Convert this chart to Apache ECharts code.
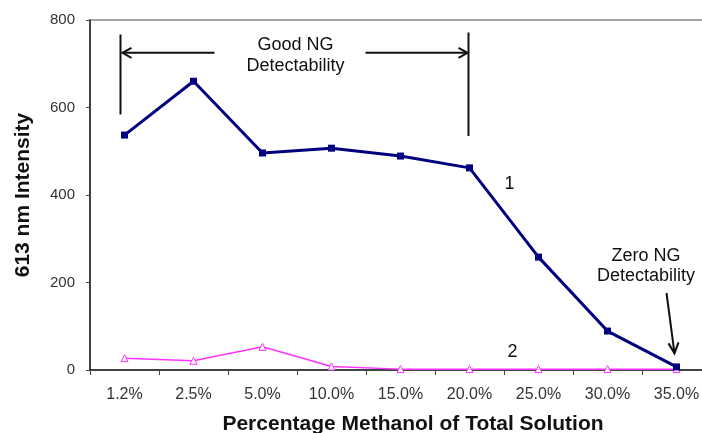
<!DOCTYPE html>
<html>
<head>
<meta charset="utf-8">
<script src="https://cdn.jsdelivr.net/npm/echarts@6/dist/echarts.min.js"></script>
<style>
  html, body { margin: 0; padding: 0; background: #fff; }
  #chart { width: 702px; height: 433px; }
</style>
</head>
<body>
<div id="chart"></div>
<script>
// Methanol fraction of the total solution
const categories = ['1.2%', '2.5%', '5.0%', '10.0%', '15.0%', '20.0%', '25.0%', '30.0%', '35.0%'];
// Curve 1: 613 nm emission intensity
const series1 = [537, 660, 496, 507, 489, 462, 258, 89, 7];
// Curve 2: 613 nm emission intensity
const series2 = [27, 21, 53, 8, 2, 2, 2, 2, 2];
const yTicks = [0, 200, 400, 600, 800];

const FONT = 'Liberation Sans, Arial, sans-serif';
const chart = echarts.init(document.getElementById('chart'), null, { renderer: 'canvas' });

chart.setOption({
  animation: false,
  backgroundColor: '#fff',
  grid: {
    left: 90, top: 20, width: 621, height: 350,
    outerBoundsMode: 'none', containLabel: false,
    show: true, borderColor: '#888', borderWidth: 1.5, backgroundColor: 'transparent'
  },
  xAxis: {
    type: 'category',
    data: categories,
    boundaryGap: true,
    name: 'Percentage Methanol of Total Solution',
    nameLocation: 'middle',
    nameGap: 44,
    nameTextStyle: { fontFamily: FONT, fontSize: 21, fontWeight: 'bold', color: '#111', padding: [0, 0, 0, 25] },
    axisLine: { lineStyle: { color: '#222', width: 1.5 } },
    axisTick: { show: true, length: 5, lineStyle: { color: '#444' } },
    axisLabel: { fontFamily: FONT, fontSize: 16, color: '#333', margin: 17 }
  },
  yAxis: {
    type: 'value',
    min: yTicks[0],
    max: yTicks[yTicks.length - 1],
    interval: 200,
    name: '613 nm Intensity',
    nameLocation: 'middle',
    nameGap: 56,
    nameTextStyle: { fontFamily: FONT, fontSize: 21, fontWeight: 'bold', color: '#111' },
    axisLine: { show: true, lineStyle: { color: '#222', width: 1.5 } },
    axisTick: { show: true, length: 4, lineStyle: { color: '#444' } },
    axisLabel: { fontFamily: FONT, fontSize: 15, color: '#333', margin: 15 },
    splitLine: { show: false }
  },
  series: [
    {
      name: '1',
      type: 'line',
      data: series1,
      symbol: 'rect',
      symbolSize: 7,
      lineStyle: { color: '#000080', width: 3 },
      itemStyle: { color: '#000080' },
      z: 3
    },
    {
      name: '2',
      type: 'line',
      data: series2,
      symbol: 'triangle',
      symbolSize: 7,
      lineStyle: { color: '#ff33ff', width: 1.5 },
      itemStyle: { color: '#fff', borderColor: '#ff33ff', borderWidth: 1 },
      z: 2
    }
  ]
});

// Annotations placed in data space and converted to pixels
function px(cat, val) { return chart.convertToPixel({ xAxisIndex: 0, yAxisIndex: 0 }, [cat, val]); }
const left = px('1.2%', 0), right = px('20.0%', 0);
const lx = left[0] - 4, rx = right[0] - 1;
const yTop = px('1.2%', 760)[1], yArrow = px('1.2%', 725)[1];
const yLeftBottom = px('1.2%', 584)[1], yRightBottom = px('1.2%', 535)[1];
const zeroTip = px('35.0%', 38);
const arrowStyle = { stroke: '#111', lineWidth: 2 };
const txt = { fontFamily: FONT, fontSize: 18, fill: '#111' };

function arrowHead(x, y, dir) {
  let pts;
  if (dir === 'left') pts = [[x + 9, y - 5], [x, y], [x + 9, y + 5]];
  else pts = [[x - 9, y - 5], [x, y], [x - 9, y + 5]];
  return { type: 'polyline', shape: { points: pts }, style: arrowStyle, z: 10 };
}

const textCx = (lx + rx) / 2 + 1;
chart.setOption({
  graphic: [
    { type: 'line', shape: { x1: lx, y1: yTop - 3, x2: lx, y2: yLeftBottom }, style: arrowStyle, z: 10 },
    { type: 'line', shape: { x1: rx, y1: yTop - 5, x2: rx, y2: yRightBottom }, style: arrowStyle, z: 10 },
    { type: 'line', shape: { x1: lx + 2, y1: yArrow, x2: lx + 94, y2: yArrow }, style: arrowStyle, z: 10 },
    arrowHead(lx + 2, yArrow, 'left'),
    { type: 'line', shape: { x1: rx - 103, y1: yArrow, x2: rx - 1, y2: yArrow }, style: arrowStyle, z: 10 },
    arrowHead(rx - 1, yArrow, 'right'),
    { type: 'text', x: textCx, y: 56, style: Object.assign({ text: 'Good NG\nDetectability', align: 'center', verticalAlign: 'middle', lineHeight: 21 }, txt), z: 10 },
    { type: 'text', x: px('25.0%', 0)[0] - 29, y: 184, style: Object.assign({ text: '1', align: 'center', verticalAlign: 'middle' }, txt), z: 10 },
    { type: 'text', x: px('25.0%', 0)[0] - 26, y: 352, style: Object.assign({ text: '2', align: 'center', verticalAlign: 'middle' }, txt), z: 10 },
    { type: 'text', x: 646, y: 266, style: Object.assign({ text: 'Zero NG\nDetectability', align: 'center', verticalAlign: 'middle', lineHeight: 20 }, txt), z: 10 },
    { type: 'line', shape: { x1: zeroTip[0] - 10, y1: 293, x2: zeroTip[0] - 2, y2: zeroTip[1] }, style: arrowStyle, z: 10 },
    { type: 'polyline', shape: { points: [[zeroTip[0] - 8, zeroTip[1] - 10], [zeroTip[0] - 2, zeroTip[1]], [zeroTip[0] + 2, zeroTip[1] - 11]] }, style: arrowStyle, z: 10 }
  ]
});
</script>
</body>
</html>
